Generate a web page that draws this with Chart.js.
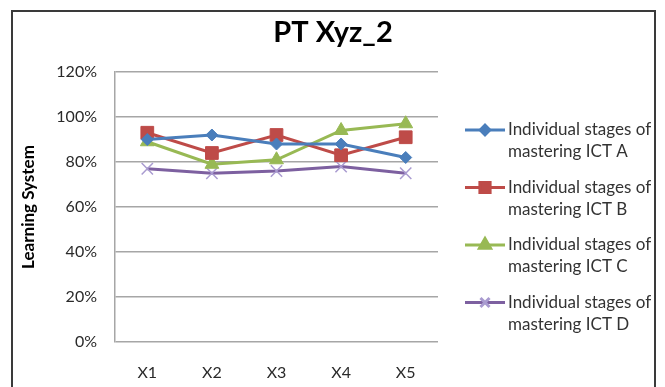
<!DOCTYPE html>
<html>
<head>
<meta charset="utf-8">
<script src="https://cdn.jsdelivr.net/npm/chart.js@4"></script>
<style>
    html, body { margin: 0; padding: 0; background: #fff; }
    #wrap { width: 665px; height: 387px; position: relative; }
</style>
</head>
<body>
<div id="wrap"><canvas id="myChart" width="665" height="387"></canvas></div>
<script>
const categories = ["X1", "X2", "X3", "X4", "X5"];
const seriesA = [90, 92, 88, 88, 82];
const seriesB = [93, 84, 92, 83, 91];
const seriesC = [89, 79, 81, 94, 97];
const seriesD = [77, 75, 76, 78, 75];
const seriesNames = [
    ["Individual stages of", "mastering ICT A"],
    ["Individual stages of", "mastering ICT B"],
    ["Individual stages of", "mastering ICT C"],
    ["Individual stages of", "mastering ICT D"]
];
const yTicks = [0, 20, 40, 60, 80, 100, 120];
const chartTitle = "PT Xyz_2";

const FONT = "Lato, 'Open Sans', sans-serif";

// frame round the whole chart and the centred title, as in the spreadsheet export
const framePlugin = {
    id: 'frame',
    beforeDraw(chart) {
        const ctx = chart.ctx;
        ctx.save();
        ctx.strokeStyle = '#3a3a3a';
        ctx.lineWidth = 2;
        ctx.strokeRect(12, 11, 643, 420);
        ctx.fillStyle = '#000';
        ctx.font = "bold 29px " + FONT;
        ctx.textAlign = 'center';
        ctx.textBaseline = 'middle';
        ctx.fillText(chartTitle, 333, 33);
        ctx.restore();
    }
};

// legend on the right with two-line labels
const sideLegend = {
    id: 'sideLegend',
    afterDraw(chart) {
        const ctx = chart.ctx;
        const x0 = 465, lineLen = 40;
        const top = 130, step = 57.5;
        ctx.save();
        chart.data.datasets.forEach((ds, i) => {
            const y = top + i * step;
            ctx.strokeStyle = ds.borderColor;
            ctx.lineWidth = 3;
            ctx.beginPath();
            ctx.moveTo(x0, y);
            ctx.lineTo(x0 + lineLen, y);
            ctx.stroke();
            ctx.fillStyle = ds.pointBackgroundColor;
            ctx.strokeStyle = ds.pointBorderColor;
            Chart.helpers.drawPoint(ctx, {
                pointStyle: ds.pointStyle,
                radius: ds.pointRadius * 0.8,
                borderWidth: ds.pointBorderWidth,
                rotation: 0
            }, x0 + lineLen / 2, y);
            ctx.fillStyle = '#333';
            ctx.font = "17px " + FONT;
            ctx.textBaseline = 'middle';
            ctx.textAlign = 'left';
            seriesNames[i].forEach((t, k) => ctx.fillText(t, x0 + lineLen + 3, y + k * 22));
        });
        ctx.restore();
    }
};

function makeSet(label, data, color, style, radius, markerFill, markerBorder, markerWidth) {
    return {
        label: label.join(" "),
        data: data,
        borderColor: color,
        backgroundColor: color,
        borderWidth: 3,
        pointStyle: style,
        pointRadius: radius,
        pointHoverRadius: radius,
        pointBackgroundColor: markerFill,
        pointBorderColor: markerBorder,
        pointBorderWidth: markerWidth,
        tension: 0,
        fill: false
    };
}

const ctx = document.getElementById('myChart').getContext('2d');
const myChart = new Chart(ctx, {
    type: 'line',
    data: {
        labels: categories,
        datasets: [
            makeSet(seriesNames[0], seriesA, '#4a7ebb', 'rectRot', 6, '#4a7ebb', '#4a7ebb', 1),
            makeSet(seriesNames[1], seriesB, '#be4b48', 'rect', 9, '#be4b48', '#be4b48', 1),
            makeSet(seriesNames[2], seriesC, '#98b954', 'triangle', 8, '#98b954', '#98b954', 1),
            makeSet(seriesNames[3], seriesD, '#7d60a0', 'crossRot', 8, '#a99bd0', '#a99bd0', 1.5)
        ]
    },
    plugins: [framePlugin, sideLegend],
    options: {
        responsive: false,
        animation: false,
        layout: {
            padding: { left: 14, right: 227, top: 72, bottom: 0 }
        },
        plugins: {
            legend: { display: false },
            tooltip: { enabled: false },
            title: { display: false }
        },
        scales: {
            x: {
                offset: true,
                grid: { display: false, drawTicks: false },
                border: { display: false },
                ticks: {
                    color: '#2a2a2a',
                    font: { family: FONT, size: 16 },
                    padding: 21
                },
                afterFit(scale) { scale.height = 45; }
            },
            y: {
                min: 0,
                max: 120,
                afterBuildTicks(scale) { scale.ticks = yTicks.map(v => ({ value: v })); },
                grid: { color: '#a6a6a6', lineWidth: 1.5, drawTicks: false },
                border: { color: '#a6a6a6', width: 1.5 },
                ticks: {
                    color: '#2a2a2a',
                    font: { family: FONT, size: 16 },
                    padding: 18,
                    callback: v => v + '%'
                },
                title: {
                    display: true,
                    text: 'Learning System',
                    color: '#000',
                    font: { family: FONT, size: 17, weight: 'bold' },
                    padding: { top: 4, bottom: 0 }
                },
                afterFit(scale) { scale.width = 101; }
            }
        }
    }
});
</script>
</body>
</html>
